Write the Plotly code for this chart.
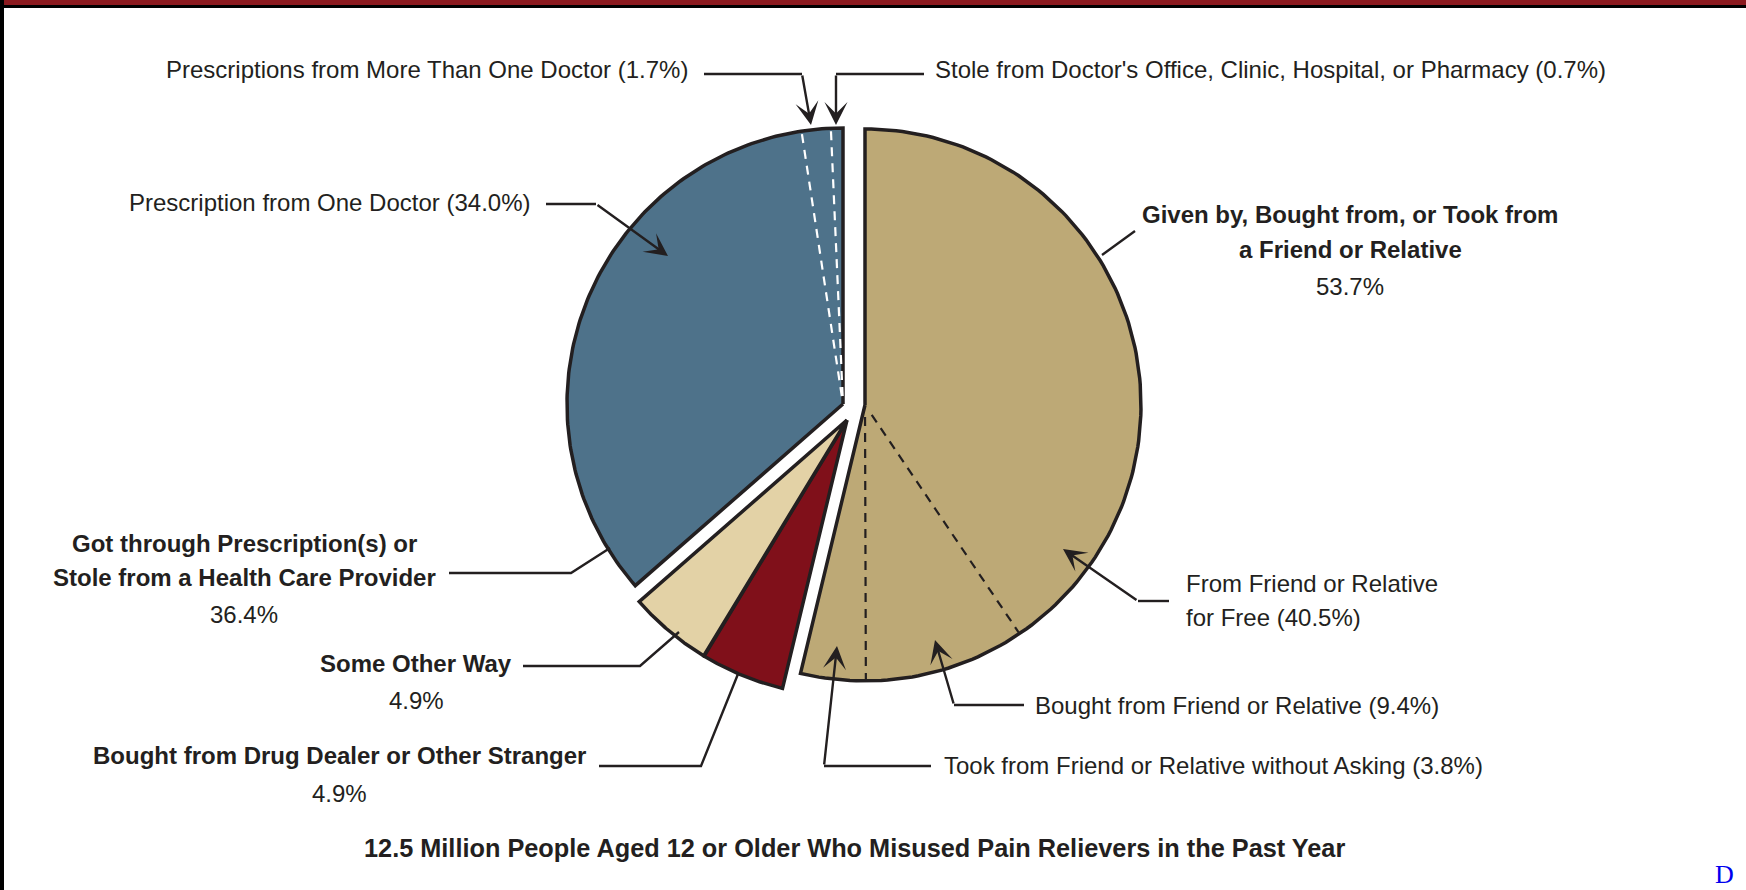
import numpy as np
import plotly.graph_objects as go

# Sources of pain relievers, past-year misusers aged 12+ (percent)
group_names = ["Given by, Bought from, or Took from<br>a Friend or Relative",
               "Bought from Drug Dealer or Other Stranger",
               "Some Other Way",
               "Got through Prescription(s) or<br>Stole from a Health Care Provider"]
group_values = [53.7, 4.9, 4.9, 36.4]

friend_names = ["From Friend or Relative<br>for Free",
                "Bought from Friend or Relative",
                "Took from Friend or Relative without Asking"]
friend_values = [40.5, 9.4, 3.8]

provider_names = ["Prescription from One Doctor",
                  "Prescriptions from More Than One Doctor",
                  "Stole from Doctor's Office, Clinic, Hospital, or Pharmacy"]
provider_values = [34.0, 1.7, 0.7]

title_text = "12.5 Million People Aged 12 or Older Who Misused Pain Relievers in the Past Year"

W, H = 1746, 890
R = 276
INK = "#231f20"
FONT = "Liberation Sans Narrow, Arial Narrow, Liberation Sans, Arial, sans-serif"
SIZE = 24
group_colors = ["#bda976", "#80101a", "#e3d2a6", "#4e728a"]
# exploded groups: friend / stranger+other / provider
group_center = [(865, 405), (847, 420), (847, 420), (843, 404)]

total = sum(group_values)


def to_deg(v):
    return v / total * 360.0


def polar(c, ang, r):
    a = np.radians(ang)
    return c[0] + r * np.sin(a), c[1] - r * np.cos(a)


fig = go.Figure()

# group wedges
start = 0.0
group_angles = []
for val, col, c in zip(group_values, group_colors, group_center):
    a0, a1 = start, start + to_deg(val)
    group_angles.append((a0, a1))
    angs = np.linspace(a0, a1, 150)
    xs, ys = polar(c, angs, R)
    fig.add_trace(go.Scatter(
        x=[c[0]] + list(xs) + [c[0]], y=[c[1]] + list(ys) + [c[1]],
        mode="lines", fill="toself", fillcolor=col,
        line=dict(color=INK, width=3.5), hoverinfo="skip", showlegend=False))
    start = a1

# dashed dividers inside the friend group
acc = group_angles[0][0]
for v in friend_values[:-1]:
    acc += to_deg(v)
    x0, y0 = polar(group_center[0], acc, 12)
    x1, y1 = polar(group_center[0], acc, R - 2)
    fig.add_trace(go.Scatter(x=[x0, x1], y=[y0, y1], mode="lines",
                             line=dict(color=INK, width=2.2, dash="9px,7px"),
                             hoverinfo="skip", showlegend=False))

# white dashed dividers inside the provider group
acc = group_angles[3][0]
for v in provider_values[:-1]:
    acc += to_deg(v)
    x0, y0 = polar(group_center[3], acc, 8)
    x1, y1 = polar(group_center[3], acc, R - 3)
    fig.add_trace(go.Scatter(x=[x1, x0], y=[y1, y0], mode="lines",
                             line=dict(color="white", width=2.2, dash="9px,7px"),
                             hoverinfo="skip", showlegend=False))

# leader lines: (polyline up to elbow, end point, arrow?)
leaders = [
    ([(704, 74), (802, 74)], (811, 125), True),
    ([(924, 74), (836, 74)], (836, 125), True),
    ([(546, 204), (596, 204)], (668, 256), True),
    ([(1135, 231)], (1102, 255), False),
    ([(1169, 601), (1138, 601)], (1063, 549), True),
    ([(1024, 705), (954, 705)], (935, 640), True),
    ([(931, 766), (824, 766)], (837, 646), True),
    ([(449, 573), (571, 573)], (610, 548), False),
    ([(523, 666), (640, 666)], (679, 632), False),
    ([(599, 766), (701, 766)], (738, 674), False),
]
for pts, end, arrow in leaders:
    if arrow:
        fig.add_trace(go.Scatter(x=[p[0] for p in pts], y=[p[1] for p in pts], mode="lines",
                                 line=dict(color=INK, width=2.4), hoverinfo="skip", showlegend=False))
        fig.add_annotation(x=end[0], y=end[1], ax=pts[-1][0], ay=pts[-1][1],
                           xref="x", yref="y", axref="x", ayref="y", text="",
                           showarrow=True, arrowhead=3, arrowsize=1.6, arrowwidth=2.4,
                           arrowcolor=INK, standoff=0)
    else:
        fig.add_trace(go.Scatter(x=[p[0] for p in pts] + [end[0]], y=[p[1] for p in pts] + [end[1]],
                                 mode="lines", line=dict(color=INK, width=2.4),
                                 hoverinfo="skip", showlegend=False))


def label(x, y, text, xanchor="left", size=SIZE):
    fig.add_annotation(x=x, y=y, xref="x", yref="y", text=text, showarrow=False,
                       xanchor=xanchor, yanchor="middle", align=xanchor,
                       font=dict(family=FONT, size=size, color=INK))


def block(x, ys, lines, xanchor="left", bold_lines=0):
    for i, (y, t) in enumerate(zip(ys, lines)):
        label(x, y, f"<b>{t}</b>" if i < bold_lines else t, xanchor)


def pct(v):
    return f"{v:.1f}%"


# sub-category labels
label(690, 69, f"{provider_names[1]} ({pct(provider_values[1])})", "right")
label(933, 69, f"{provider_names[2]} ({pct(provider_values[2])})")
label(532, 202, f"{provider_names[0]} ({pct(provider_values[0])})", "right")
ff = friend_names[0].split("<br>")
block(1184, [583, 617], [ff[0], f"{ff[1]} ({pct(friend_values[0])})"])
label(1033, 705, f"{friend_names[1]} ({pct(friend_values[1])})")
label(942, 765, f"{friend_names[2]} ({pct(friend_values[2])})")

# group labels
g0 = group_names[0].split("<br>")
block(1350, [214, 249, 286], g0 + [pct(group_values[0])], "center", 2)
block(339, [755, 793], [group_names[1], pct(group_values[1])], "center", 1)
block(416, [663, 700], [group_names[2], pct(group_values[2])], "center", 1)
g3 = group_names[3].split("<br>")
block(244, [543, 577, 614], g3 + [pct(group_values[3])], "center", 2)

label(854, 848, f"<b>{title_text}</b>", "center", size=25.3)

fig.add_annotation(x=1724, y=874, xref="x", yref="y", text="D", showarrow=False,
                   xanchor="center", yanchor="middle",
                   font=dict(family="Liberation Serif, Times New Roman, serif", size=26, color="#0000ee"))

# page frame: red/black rule at top, black rule at left
fig.add_shape(type="rect", x0=0, x1=W, y0=0, y1=5, xref="x", yref="y",
              fillcolor="#8b1a1f", line_width=0, layer="above")
fig.add_shape(type="rect", x0=0, x1=W, y0=5, y1=8, xref="x", yref="y",
              fillcolor="black", line_width=0, layer="above")
fig.add_shape(type="rect", x0=0, x1=4, y0=0, y1=H, xref="x", yref="y",
              fillcolor="black", line_width=0, layer="above")

fig.update_xaxes(range=[0, W], visible=False, fixedrange=True)
fig.update_yaxes(range=[H, 0], visible=False, fixedrange=True)
fig.update_layout(width=W, height=H, margin=dict(l=0, r=0, t=0, b=0),
                  paper_bgcolor="white", plot_bgcolor="white", showlegend=False)

fig.write_html("out.html", config={"displayModeBar": False},
               post_script="document.body.style.margin='0';")
